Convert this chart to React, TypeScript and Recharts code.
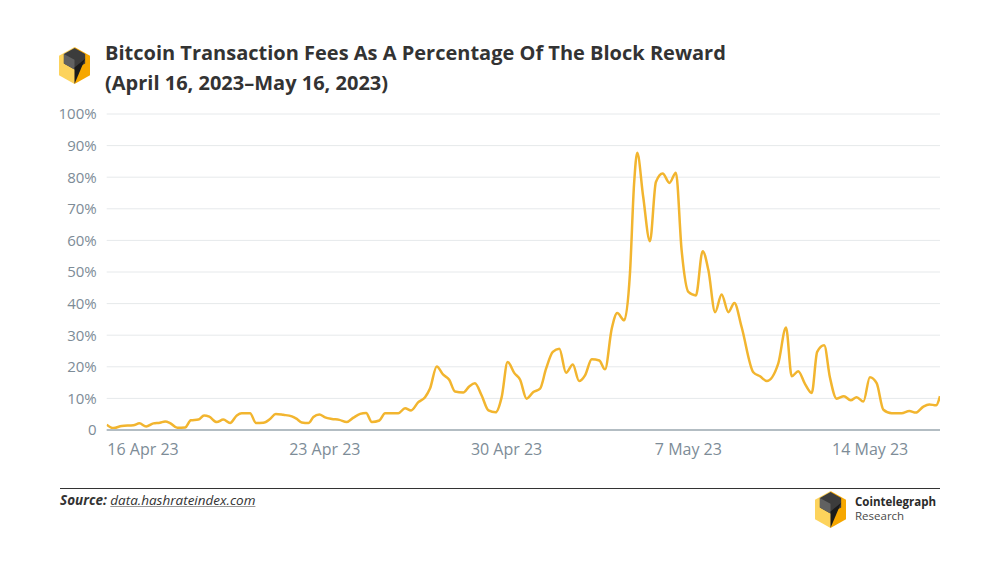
import React from "react";
import { LineChart, Line, XAxis, YAxis, CartesianGrid } from "recharts";

// days since 16 Apr 2023 00:00
const dayOffsets: number[] = [
  -1.4, -1.14, -0.82, -0.37, -0.14, 0.12, 0.4, 0.65, 0.85, 1.04, 1.32, 1.62, 1.84, 2.13, 2.35, 2.55,
  2.84, 3.09, 3.35, 3.61, 3.8, 4.12, 4.35, 4.63, 4.89, 5.11, 5.4, 5.73, 5.92, 6.11, 6.37, 6.56,
  6.79, 7.01, 7.27, 7.56, 7.84, 8.1, 8.36, 8.59, 8.81, 9.1, 9.32, 9.83, 10.09, 10.32, 10.6, 10.86,
  11.05, 11.31, 11.56, 11.79, 12.01, 12.33, 12.56, 12.78, 13.04, 13.3, 13.58, 13.81, 14.04, 14.3,
  14.52, 14.77, 15.03, 15.29, 15.52, 15.78, 16.03, 16.29, 16.55, 16.79, 17.02, 17.28, 17.57, 17.79,
  18.05, 18.26, 18.53, 18.75, 18.91, 19.03, 19.26, 19.52, 19.75, 20.01, 20.27, 20.52, 20.74, 21.0,
  21.29, 21.55, 21.77, 22.03, 22.28, 22.54, 22.77, 23.05, 23.5, 23.76, 24.02, 24.46, 24.76, 24.98,
  25.23, 25.49, 25.75, 25.96, 26.23, 26.45, 26.71, 26.99, 27.25, 27.48, 27.74, 27.99, 28.25, 28.51,
  28.83, 29.21, 29.51, 29.76, 30.05, 30.28, 30.54, 30.69,
];

const feePct: number[] = [
  1.7, 0.6, 1.3, 1.5, 2.1, 1.1, 2.1, 2.3, 2.7, 2.2, 0.7, 0.8, 3.1, 3.3, 4.6, 4.2,
  2.5, 3.3, 2.2, 4.6, 5.3, 5.3, 2.2, 2.3, 3.5, 5.1, 4.8, 4.3, 3.5, 2.4, 2.2, 4.1,
  4.9, 4.0, 3.5, 3.2, 2.5, 3.9, 5.1, 5.4, 2.5, 3.0, 5.3, 5.3, 6.9, 6.2, 8.8, 10.4,
  13.1, 20.1, 17.5, 15.9, 12.2, 11.9, 13.8, 14.8, 10.9, 6.2, 5.6, 10.4, 21.5, 18.0,
  15.9, 9.9, 12.0, 13.1, 19.4, 24.7, 25.7, 18.1, 20.7, 15.5, 17.3, 22.4, 22.0, 19.2,
  32.1, 37.0, 34.7, 49.5, 78.0, 87.7, 73.8, 59.7, 78.5, 81.2, 78.2, 81.4, 56.9, 43.7,
  42.6, 56.6, 50.6, 37.3, 42.9, 37.3, 40.2, 32.6, 18.3, 17.0, 15.5, 21.0, 32.4, 17.0,
  18.6, 14.6, 11.7, 24.7, 26.8, 16.7, 9.9, 10.7, 9.4, 10.4, 9.0, 16.7, 14.8, 6.4,
  5.3, 5.3, 6.0, 5.5, 7.4, 8.1, 7.8, 10.7,
];

const xTickDays: number[] = [0, 7, 14, 21, 28];
const xTickLabels: string[] = ["16 Apr 23", "23 Apr 23", "30 Apr 23", "7 May 23", "14 May 23"];
const yTicks: number[] = [0, 10, 20, 30, 40, 50, 60, 70, 80, 90, 100];

const data = dayOffsets.map((d, i) => ({ day: d, fee: feePct[i] }));

const FONT = "'Open Sans', 'Noto Sans', sans-serif";

function Logo() {
  return (
    <svg width={31} height={37} viewBox="0 0 32 38">
      <polygon points="16,0 0,9 0,29 16,38" fill="#fdd35c" />
      <polygon points="16,0 32,9 32,29 16,38" fill="#f6a700" />
      <polygon points="16,1 27,7 27,17 16,23 5,17 5,7" fill="#3c3c3c" />
      <polygon points="5,7 16,13 16,23 5,17" fill="#616161" />
      <polygon points="27,12 16,38 16,21" fill="#1b1b1b" />
    </svg>
  );
}

export default function App() {
  return (
    <div
      style={{
        position: "absolute",
        left: 0,
        top: 0,
        width: 1000,
        height: 573,
        background: "#ffffff",
        fontFamily: FONT,
        overflow: "hidden",
      }}
    >
      <div style={{ position: "absolute", left: 59, top: 47 }}>
        <Logo />
      </div>
      <div
        style={{
          position: "absolute",
          left: 105,
          top: 38,
          fontSize: 20,
          lineHeight: "30px",
          fontWeight: 700,
          color: "#333333",
        }}
      >
        Bitcoin Transaction Fees As A Percentage Of The Block Reward
        <br />
        (April 16, 2023–May 16, 2023)
      </div>

      <div style={{ position: "absolute", left: 0, top: 0 }}>
        <LineChart
          width={1000}
          height={573}
          data={data}
          margin={{ top: 114, right: 60, bottom: 113, left: 46.7 }}
        >
          <CartesianGrid vertical={false} stroke="#e6e9eb" strokeWidth={1} />
          <XAxis
            dataKey="day"
            type="number"
            domain={[-1.4, 30.69]}
            ticks={xTickDays}
            height={30}
            tickFormatter={(v: number) => xTickLabels[xTickDays.indexOf(v)] ?? ""}
            axisLine={{ stroke: "#b3bdc3", strokeWidth: 2 }}
            tickLine={false}
            tickSize={0}
            tickMargin={14}
            tick={{ fill: "#7d8c97", fontSize: 16, fontFamily: FONT }}
            allowDataOverflow
          />
          <YAxis
            type="number"
            domain={[0, 100]}
            ticks={yTicks}
            width={60}
            axisLine={false}
            tickLine={false}
            tickSize={0}
            tickMargin={10}
            tickFormatter={(v: number) => (v === 0 ? "0" : `${v}%`)}
            tick={{ fill: "#7d8c97", fontSize: 15, fontFamily: FONT }}
          />
          <Line
            type="monotone"
            dataKey="fee"
            stroke="#f2b52f"
            strokeWidth={2.5}
            dot={false}
            activeDot={false}
            isAnimationActive={false}
          />
        </LineChart>
      </div>

      <div
        style={{
          position: "absolute",
          left: 60,
          top: 488,
          width: 880,
          height: 0,
          borderTop: "1px solid #333333",
        }}
      />
      <div
        style={{
          position: "absolute",
          left: 60,
          top: 490,
          fontSize: 13.5,
          fontStyle: "italic",
          color: "#333333",
          lineHeight: "20px",
        }}
      >
        <span style={{ fontWeight: 700 }}>Source:</span>{" "}
        <span style={{ textDecoration: "underline", textDecorationColor: "#999" }}>data.hashrateindex.com</span>
      </div>
      <div style={{ position: "absolute", left: 815, top: 491 }}>
        <Logo />
      </div>
      <div
        style={{
          position: "absolute",
          left: 855,
          top: 496,
          fontSize: 11.5,
          lineHeight: "12px",
          fontWeight: 700,
          color: "#2a2a2a",
        }}
      >
        Cointelegraph
      </div>
      <div
        style={{
          position: "absolute",
          left: 855,
          top: 509.5,
          fontSize: 11.5,
          lineHeight: "12px",
          fontWeight: 400,
          color: "#4a4a4a",
        }}
      >
        Research
      </div>
    </div>
  );
}
